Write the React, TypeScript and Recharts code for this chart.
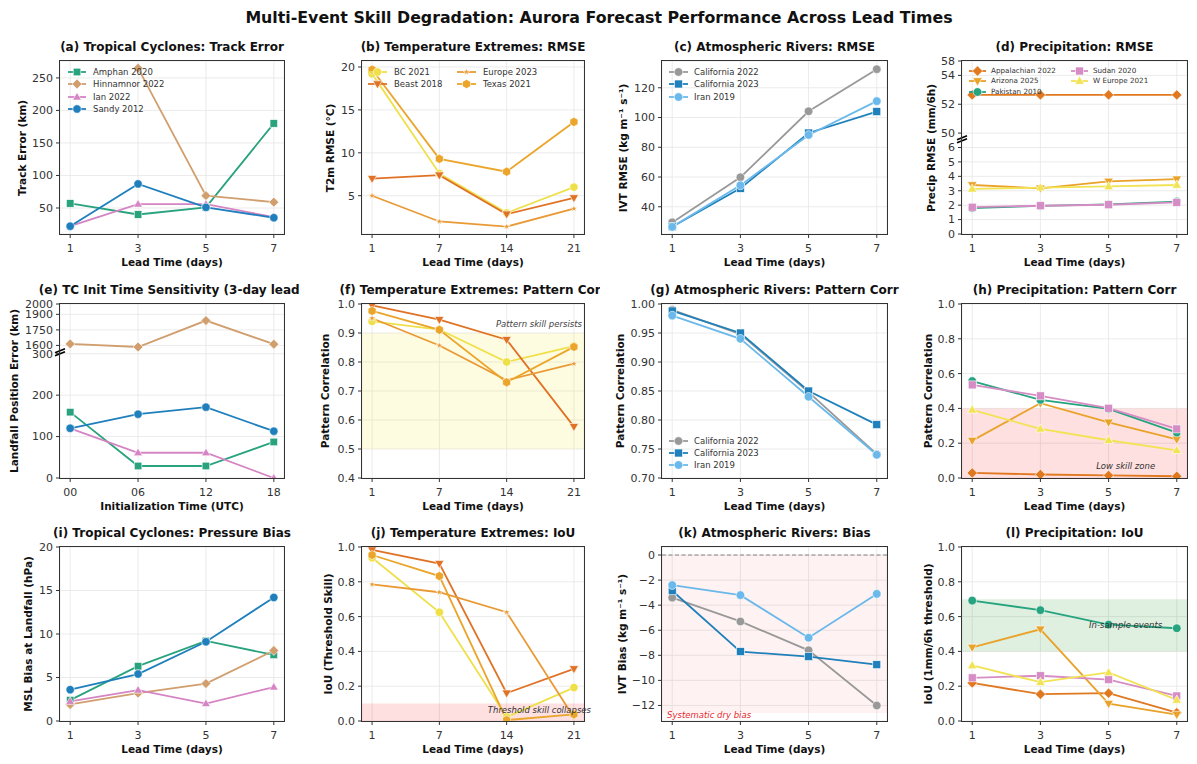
import React from "react";
import {
  LineChart,
  Line,
  XAxis,
  YAxis,
  CartesianGrid,
  ReferenceArea,
  ReferenceLine,
  ReferenceDot,
} from "recharts";

const FONT = '"DejaVu Sans", Verdana, sans-serif';

// x categories
const LEAD_DAYS = [1, 3, 5, 7];
const TEMP_LEAD_LABELS = ["1", "7", "14", "21"];
const INIT_TIME_LABELS = ["00", "06", "12", "18"];

// event names
const TC_EVENTS = ["Amphan 2020", "Hinnamnor 2022", "Ian 2022", "Sandy 2012"];
const TEMP_EVENTS = ["BC 2021", "Beast 2018", "Europe 2023", "Texas 2021"];
const AR_EVENTS = ["California 2022", "California 2023", "Iran 2019"];
const PRECIP_EVENTS = ["Appalachian 2022", "Arizona 2025", "Pakistan 2010", "Sudan 2020", "W Europe 2021"];

// (a) track error (km)
const trackAmphan = [57, 40, 51, 180];
const trackHinnamnor = [null, 265, 69, 59];
const trackIan = [22, 56, 56, 36];
const trackSandy = [22, 87, 51, 35];

// (b) T2m RMSE (°C)
const t2mBC = [19.2, 7.6, 3.0, 6.0];
const t2mBeast = [7.0, 7.4, 2.85, 4.75];
const t2mEurope = [5.0, 2.0, 1.4, 3.5];
const t2mTexas = [19.7, 9.3, 7.8, 13.6];

// (c) IVT RMSE
const ivtCal22 = [29.5, 59.8, 104.2, 132.5];
const ivtCal23 = [26.6, 52.4, 89.6, 104];
const ivtIran = [26.5, 54.4, 88.3, 111];

// (d) precip RMSE (mm/6h)
const prAppalachian = [52.65, 52.65, 52.65, 52.65];
const prArizona = [3.4, 3.17, 3.65, 3.8];
const prPakistan = [1.8, 1.95, 2.05, 2.25];
const prSudan = [1.86, 1.96, 2.03, 2.19];
const prWEurope = [3.13, 3.22, 3.3, 3.4];
const PRECIP_TICKS = [0, 1, 2, 3, 4, 5, 6, 50, 52, 54, 58];

// (e) landfall position error by init time (km)
const initAmphan = [159, 29, 29, 87];
const initHinnamnor = [1615, 1585, 1840, 1612];
const initIan = [120, 61, 61, 0];
const initSandy = [120, 154, 171, 113];
const LANDFALL_TICKS = [0, 100, 200, 300, 1600, 1750, 1900, 2000];

// (f) temperature pattern correlation
const pcBC = [0.94, 0.912, 0.8, 0.855];
const pcBeast = [0.995, 0.946, 0.877, 0.577];
const pcEurope = [0.951, 0.857, 0.737, 0.794];
const pcTexas = [0.976, 0.911, 0.73, 0.852];

// (g) AR pattern correlation
const arPcCal22 = [0.99, 0.948, 0.848, 0.741];
const arPcCal23 = [0.988, 0.95, 0.85, 0.792];
const arPcIran = [0.98, 0.94, 0.84, 0.74];

// (h) precip pattern correlation
const ppcAppalachian = [0.029, 0.02, 0.015, 0.01];
const ppcArizona = [0.215, 0.43, 0.32, 0.222];
const ppcPakistan = [0.557, 0.449, 0.397, 0.261];
const ppcSudan = [0.535, 0.472, 0.401, 0.282];
const ppcWEurope = [0.392, 0.282, 0.217, 0.159];

// (i) MSL bias at landfall (hPa)
const mslAmphan = [2.4, 6.3, 9.2, 7.6];
const mslHinnamnor = [1.9, 3.2, 4.3, 8.1];
const mslIan = [2.25, 3.55, 2.0, 3.9];
const mslSandy = [3.6, 5.4, 9.1, 14.2];

// (j) temperature IoU
const iouBC = [0.938, 0.625, 0.023, 0.192];
const iouBeast = [0.983, 0.905, 0.16, 0.3];
const iouEurope = [0.785, 0.74, 0.625, 0.02];
const iouTexas = [0.954, 0.833, 0.005, 0.038];

// (k) IVT bias
const biasCal22 = [-3.4, -5.3, -7.6, -12.0];
const biasCal23 = [-2.85, -7.7, -8.1, -8.75];
const biasIran = [-2.4, -3.2, -6.6, -3.1];

// (l) precip IoU
const piouAppalachian = [0.219, 0.154, 0.16, 0.048];
const piouArizona = [0.423, 0.527, 0.1, 0.037];
const piouPakistan = [0.692, 0.637, 0.554, 0.533];
const piouSudan = [0.248, 0.26, 0.238, 0.144];
const piouWEurope = [0.319, 0.223, 0.279, 0.121];

type MarkerKind = "circle" | "square" | "diamond" | "triUp" | "triDown" | "star" | "hexagon";
interface Style { color: string; marker: MarkerKind; size: number }
interface Series extends Style { name: string; values: (number | null)[] }

const TC_STYLE: Style[] = [
  { color: "#29a37e", marker: "square", size: 4 },
  { color: "#d19e6e", marker: "diamond", size: 4.3 },
  { color: "#d584c4", marker: "triUp", size: 4 },
  { color: "#1f7fbd", marker: "circle", size: 4.2 },
];
const TEMP_STYLE: Style[] = [
  { color: "#efe04a", marker: "circle", size: 4.2 },
  { color: "#e07226", marker: "triDown", size: 4.2 },
  { color: "#e99a35", marker: "star", size: 3.2 },
  { color: "#eaa52a", marker: "hexagon", size: 4.4 },
];
const AR_STYLE: Style[] = [
  { color: "#999999", marker: "circle", size: 4.3 },
  { color: "#1f80bb", marker: "square", size: 4.2 },
  { color: "#6ab9ea", marker: "circle", size: 4.3 },
];
const PRECIP_STYLE: Style[] = [
  { color: "#e0781f", marker: "diamond", size: 4.5 },
  { color: "#e9a22a", marker: "triDown", size: 4.3 },
  { color: "#26a37f", marker: "circle", size: 4.3 },
  { color: "#d68cc4", marker: "square", size: 4.2 },
  { color: "#f1e354", marker: "triUp", size: 4.3 },
];

const build = (names: string[], styles: Style[], values: (number | null)[][]): Series[] =>
  names.map((name, i) => ({ name, ...styles[i], values: values[i] }));

const precipScale = (v: number) => (v <= 6 ? v : v <= 54 ? 7 + (v - 50) : 11 + (v - 54) / 4);
const landfallScale = (v: number) => (v <= 300 ? v : 320 + (v - 1600) / 4);

const COL_X = [0, 300, 600, 900];
const COL_W = [300, 300, 300, 297];
const ROW_Y = [28, 276, 518];
const ROW_H = [248, 242, 246];
const PLOT_X = [[60, 284], [362, 584], [662, 887], [962, 1187]];
const PLOT_Y = [[61, 234], [304, 478], [547, 721]];

interface LegendCfg { x: number[]; y0: number; rowH: number; ncol: number; font: number; handle: number; gap: number }
interface Note { x: number; y: number; text: string; anchor: "start" | "middle" | "end"; color: string }
interface Band { y1: number; y2: number; fill: string; opacity: number }
interface PanelCfg {
  col: number;
  row: number;
  title: string;
  ylabel: string;
  xlabel: string;
  ylabelX: number;
  xs: number[];
  xDomain: [number, number];
  xFmt: (v: number) => string;
  series: Series[];
  yDomain: [number, number];
  yTicks: number[];
  yFmt: (v: number, i: number) => string;
  transform?: (v: number) => number;
  legend?: LegendCfg;
  bands?: Band[];
  notes?: Note[];
  zeroLine?: boolean;
  breakAt?: number;
}

const leadAxis = { xs: LEAD_DAYS, xDomain: [0.7, 7.3] as [number, number], xFmt: (v: number) => String(v) };
const tempAxis = {
  xs: TEMP_LEAD_LABELS.map((_, i) => i),
  xDomain: [-0.15, 3.15] as [number, number],
  xFmt: (v: number) => TEMP_LEAD_LABELS[v] ?? "",
};
const initAxis = {
  xs: INIT_TIME_LABELS.map((_, i) => i),
  xDomain: [-0.15, 3.15] as [number, number],
  xFmt: (v: number) => INIT_TIME_LABELS[v] ?? "",
};
const fix1 = (v: number) => v.toFixed(1);
const fix2 = (v: number) => v.toFixed(2);
const int = (v: number) => (v < 0 ? "\u2212" + Math.abs(v) : String(v));
const LEAD = "Lead Time (days)";

const PANELS: PanelCfg[] = [
  {
    col: 0, row: 0, title: "(a) Tropical Cyclones: Track Error", ylabel: "Track Error (km)", xlabel: LEAD, ylabelX: 22,
    ...leadAxis,
    series: build(TC_EVENTS, TC_STYLE, [trackAmphan, trackHinnamnor, trackIan, trackSandy]),
    yDomain: [10, 276], yTicks: [50, 100, 150, 200, 250], yFmt: int,
    legend: { x: [68], y0: 72, rowH: 12.4, ncol: 1, font: 8.5, handle: 18, gap: 7 },
  },
  {
    col: 1, row: 0, title: "(b) Temperature Extremes: RMSE", ylabel: "T2m RMSE (°C)", xlabel: LEAD, ylabelX: 330,
    ...tempAxis,
    series: build(TEMP_EVENTS, TEMP_STYLE, [t2mBC, t2mBeast, t2mEurope, t2mTexas]),
    yDomain: [0.54, 20.7], yTicks: [5, 10, 15, 20], yFmt: int,
    legend: { x: [368, 457], y0: 72, rowH: 12, ncol: 2, font: 8.5, handle: 19, gap: 7 },
  },
  {
    col: 2, row: 0, title: "(c) Atmospheric Rivers: RMSE", ylabel: "IVT RMSE (kg m\u207B\u00B9 s\u207B\u00B9)", xlabel: LEAD, ylabelX: 623,
    ...leadAxis,
    series: build(AR_EVENTS, AR_STYLE, [ivtCal22, ivtCal23, ivtIran]),
    yDomain: [21.7, 138], yTicks: [40, 60, 80, 100, 120], yFmt: int,
    legend: { x: [669], y0: 72, rowH: 12.3, ncol: 1, font: 8.5, handle: 19, gap: 6 },
  },
  {
    col: 3, row: 0, title: "(d) Precipitation: RMSE", ylabel: "Precip RMSE (mm/6h)", xlabel: LEAD, ylabelX: 931,
    ...leadAxis,
    series: build(PRECIP_EVENTS, PRECIP_STYLE, [prAppalachian, prArizona, prPakistan, prSudan, prWEurope]),
    transform: precipScale,
    yDomain: [0, 12], yTicks: PRECIP_TICKS.map(precipScale), yFmt: (_v, i) => String(PRECIP_TICKS[i]),
    breakAt: 6.6,
    legend: { x: [969, 1071], y0: 71, rowH: 10.3, ncol: 2, font: 7.2, handle: 17, gap: 5 },
  },
  {
    col: 0, row: 1, title: "(e) TC Init Time Sensitivity (3-day lead)", ylabel: "Landfall Position Error (km)",
    xlabel: "Initialization Time (UTC)", ylabelX: 14,
    ...initAxis,
    series: build(TC_EVENTS, TC_STYLE, [initAmphan, initHinnamnor, initIan, initSandy]),
    transform: landfallScale,
    yDomain: [0, 420], yTicks: LANDFALL_TICKS.map(landfallScale), yFmt: (_v, i) => String(LANDFALL_TICKS[i]),
    breakAt: 305,
  },
  {
    col: 1, row: 1, title: "(f) Temperature Extremes: Pattern Corr", ylabel: "Pattern Correlation", xlabel: LEAD, ylabelX: 325,
    ...tempAxis,
    series: build(TEMP_EVENTS, TEMP_STYLE, [pcBC, pcBeast, pcEurope, pcTexas]),
    yDomain: [0.4, 1.0], yTicks: [0.4, 0.5, 0.6, 0.7, 0.8, 0.9, 1.0], yFmt: fix1,
    bands: [{ y1: 0.5, y2: 0.9, fill: "#f5ec30", opacity: 0.15 }],
    notes: [{ x: 3.12, y: 0.93, text: "Pattern skill persists", anchor: "end", color: "#444" }],
  },
  {
    col: 2, row: 1, title: "(g) Atmospheric Rivers: Pattern Corr", ylabel: "Pattern Correlation", xlabel: LEAD, ylabelX: 620,
    ...leadAxis,
    series: build(AR_EVENTS, AR_STYLE, [arPcCal22, arPcCal23, arPcIran]),
    yDomain: [0.7, 1.0], yTicks: [0.7, 0.75, 0.8, 0.85, 0.9, 0.95, 1.0], yFmt: fix2,
    legend: { x: [669], y0: 441, rowH: 12, ncol: 1, font: 8.5, handle: 19, gap: 6 },
  },
  {
    col: 3, row: 1, title: "(h) Precipitation: Pattern Corr", ylabel: "Pattern Correlation", xlabel: LEAD, ylabelX: 928,
    ...leadAxis,
    series: build(PRECIP_EVENTS, PRECIP_STYLE, [ppcAppalachian, ppcArizona, ppcPakistan, ppcSudan, ppcWEurope]),
    yDomain: [0, 1.0], yTicks: [0, 0.2, 0.4, 0.6, 0.8, 1.0], yFmt: fix1,
    bands: [{ y1: 0, y2: 0.4, fill: "#ff0000", opacity: 0.12 }],
    notes: [{ x: 5.5, y: 0.07, text: "Low skill zone", anchor: "middle", color: "#333" }],
  },
  {
    col: 0, row: 2, title: "(i) Tropical Cyclones: Pressure Bias", ylabel: "MSL Bias at Landfall (hPa)", xlabel: LEAD, ylabelX: 28,
    ...leadAxis,
    series: build(TC_EVENTS, TC_STYLE, [mslAmphan, mslHinnamnor, mslIan, mslSandy]),
    yDomain: [0, 20], yTicks: [0, 5, 10, 15, 20], yFmt: int,
  },
  {
    col: 1, row: 2, title: "(j) Temperature Extremes: IoU", ylabel: "IoU (Threshold Skill)", xlabel: LEAD, ylabelX: 328,
    ...tempAxis,
    series: build(TEMP_EVENTS, TEMP_STYLE, [iouBC, iouBeast, iouEurope, iouTexas]),
    yDomain: [0, 1.0], yTicks: [0, 0.2, 0.4, 0.6, 0.8, 1.0], yFmt: fix1,
    bands: [{ y1: 0, y2: 0.1, fill: "#ff0000", opacity: 0.12 }],
    notes: [{ x: 1.72, y: 0.063, text: "Threshold skill collapses", anchor: "start", color: "#333" }],
  },
  {
    col: 2, row: 2, title: "(k) Atmospheric Rivers: Bias", ylabel: "IVT Bias (kg m\u207B\u00B9 s\u207B\u00B9)", xlabel: LEAD, ylabelX: 622,
    ...leadAxis,
    series: build(AR_EVENTS, AR_STYLE, [biasCal22, biasCal23, biasIran]),
    yDomain: [-13.24, 0.64], yTicks: [-12, -10, -8, -6, -4, -2, 0], yFmt: int,
    bands: [{ y1: -12.6, y2: 0, fill: "#ff0000", opacity: 0.05 }],
    zeroLine: true,
    notes: [{ x: 0.85, y: -12.75, text: "Systematic dry bias", anchor: "start", color: "#e8242c" }],
  },
  {
    col: 3, row: 2, title: "(l) Precipitation: IoU", ylabel: "IoU (1mm/6h threshold)", xlabel: LEAD, ylabelX: 928,
    ...leadAxis,
    series: build(PRECIP_EVENTS, PRECIP_STYLE, [piouAppalachian, piouArizona, piouPakistan, piouSudan, piouWEurope]),
    yDomain: [0, 1.0], yTicks: [0, 0.2, 0.4, 0.6, 0.8, 1.0], yFmt: fix1,
    bands: [{ y1: 0.4, y2: 0.7, fill: "#008000", opacity: 0.12 }],
    notes: [{ x: 5.5, y: 0.55, text: "In-sample events", anchor: "middle", color: "#333" }],
  },
];

function Marker({ kind, cx, cy, color, s }: { kind: MarkerKind; cx: number; cy: number; color: string; s: number }) {
  const st = { fill: color, stroke: "#ffffff", strokeWidth: 0.6 };
  if (kind === "circle") return <circle cx={cx} cy={cy} r={s} {...st} />;
  if (kind === "square") return <rect x={cx - s * 0.95} y={cy - s * 0.95} width={s * 1.9} height={s * 1.9} {...st} />;
  let pts: number[][] = [];
  if (kind === "diamond") pts = [[0, -1.15], [1.15, 0], [0, 1.15], [-1.15, 0]];
  if (kind === "triUp") pts = [[0, -1.15], [1.1, 0.75], [-1.1, 0.75]];
  if (kind === "triDown") pts = [[0, 1.15], [1.1, -0.75], [-1.1, -0.75]];
  if (kind === "hexagon")
    pts = [0, 1, 2, 3, 4, 5].map((k) => [Math.sin((k * Math.PI) / 3) * 1.05, -Math.cos((k * Math.PI) / 3) * 1.05]);
  if (kind === "star")
    pts = Array.from({ length: 10 }, (_, k) => {
      const r = k % 2 ? 0.45 : 1.15;
      const a = (k * Math.PI) / 5;
      return [Math.sin(a) * r, -Math.cos(a) * r];
    });
  return <polygon points={pts.map(([x, y]) => `${cx + x * s},${cy + y * s}`).join(" ")} {...st} />;
}

function Legend({ cfg, series, cellX, cellY }: { cfg: LegendCfg; series: Series[]; cellX: number; cellY: number }) {
  const rows = Math.ceil(series.length / cfg.ncol);
  return (
    <>
      {series.map((s, i) => {
        const c = Math.floor(i / rows);
        const r = i % rows;
        return (
          <div
            key={s.name}
            style={{
              position: "absolute",
              left: cfg.x[c] - cellX,
              top: cfg.y0 + r * cfg.rowH - cellY - 6,
              height: 12,
              display: "flex",
              alignItems: "center",
              whiteSpace: "nowrap",
            }}
          >
            <svg width={cfg.handle} height={12} style={{ overflow: "visible" }}>
              <line x1={0} y1={6} x2={cfg.handle} y2={6} stroke={s.color} strokeWidth={1.8} />
              <Marker kind={s.marker} cx={cfg.handle / 2} cy={6} color={s.color} s={s.size} />
            </svg>
            <span style={{ marginLeft: cfg.gap, fontSize: cfg.font, color: "#333", lineHeight: "12px" }}>{s.name}</span>
          </div>
        );
      })}
    </>
  );
}

function Panel({ cfg }: { cfg: PanelCfg }) {
  const cellX = COL_X[cfg.col];
  const cellW = COL_W[cfg.col];
  const cellY = ROW_Y[cfg.row];
  const cellH = ROW_H[cfg.row];
  const [pl, pr] = PLOT_X[cfg.col];
  const [pt, pb] = PLOT_Y[cfg.row];
  const xAxisH = 24;
  const tf = cfg.transform ?? ((v: number) => v);
  const data = cfg.xs.map((x, i) => {
    const row: Record<string, number | null> = { x };
    cfg.series.forEach((s, k) => {
      const v = s.values[i];
      row["s" + k] = v == null ? null : tf(v);
    });
    return row;
  });
  const cx = (pl + pr) / 2 - cellX;
  const cy = (pt + pb) / 2 - cellY;
  const tickStyle = { fontSize: 11, fill: "#333", fontFamily: FONT };

  return (
    <div style={{ position: "absolute", left: cellX, top: cellY, width: cellW, height: cellH, overflow: "hidden" }}>
      <div style={{ position: "absolute", left: 0, top: 0 }}>
        <LineChart
          width={cellW}
          height={cellH}
          data={data}
          margin={{ top: pt - cellY, right: cellX + cellW - pr, bottom: cellY + cellH - pb - xAxisH, left: 0 }}
        >
          <CartesianGrid stroke="#e6e6e6" strokeWidth={0.8} />
          {(cfg.bands ?? []).map((b, i) => (
            <ReferenceArea key={"b" + i} y1={b.y1} y2={b.y2} fill={b.fill} fillOpacity={b.opacity} stroke="none" ifOverflow="hidden" />
          ))}
          {cfg.zeroLine && <ReferenceLine y={0} stroke="#777" strokeDasharray="4 2.5" strokeWidth={0.9} />}
          <XAxis
            type="number"
            dataKey="x"
            domain={cfg.xDomain}
            ticks={cfg.xs}
            tickFormatter={cfg.xFmt}
            interval={0}
            allowDataOverflow
            height={xAxisH}
            axisLine={false}
            tickLine={{ stroke: "#333" }}
            tickSize={4}
            tickMargin={6}
            tick={tickStyle}
          />
          <YAxis
            type="number"
            domain={cfg.yDomain}
            ticks={cfg.yTicks}
            tickFormatter={cfg.yFmt}
            interval={0}
            allowDataOverflow
            width={pl - cellX}
            axisLine={false}
            tickLine={{ stroke: "#333" }}
            tickSize={4}
            tickMargin={3}
            tick={tickStyle}
          />
          {cfg.series.map((s, k) => (
            <Line
              key={s.name}
              type="linear"
              dataKey={"s" + k}
              stroke={s.color}
              strokeWidth={1.8}
              isAnimationActive={false}
              connectNulls={false}
              activeDot={false}
              dot={(p: any) => {
                const key = `d-${k}-${p.index}`;
                if (p.cx == null || p.cy == null || p.value == null) return <g key={key} />;
                return <Marker key={key} kind={s.marker} cx={p.cx} cy={p.cy} color={s.color} s={s.size} />;
              }}
            />
          ))}
          {(cfg.notes ?? []).map((n, i) => (
            <ReferenceDot
              key={"n" + i}
              x={n.x}
              y={n.y}
              r={0}
              ifOverflow="visible"
              shape={(p: any) => (
                <text
                  x={p.cx}
                  y={p.cy}
                  textAnchor={n.anchor}
                  dominantBaseline="central"
                  fontSize={8.5}
                  fontStyle="italic"
                  fill={n.color}
                  fontFamily={FONT}
                >
                  {n.text}
                </text>
              )}
            />
          ))}
          {cfg.breakAt != null && (
            <ReferenceDot
              x={cfg.xDomain[0]}
              y={cfg.breakAt}
              r={0}
              ifOverflow="visible"
              shape={(p: any) => (
                <g>
                  <line x1={p.cx - 5} y1={p.cy + 1} x2={p.cx + 5} y2={p.cy - 3} stroke="#000" strokeWidth={1.6} />
                  <line x1={p.cx - 5} y1={p.cy + 4} x2={p.cx + 5} y2={p.cy} stroke="#000" strokeWidth={1.6} />
                </g>
              )}
            />
          )}
        </LineChart>
      </div>
      <div
        style={{
          position: "absolute",
          left: pl - cellX - 0.6,
          top: pt - cellY - 0.6,
          width: pr - pl + 1.2,
          height: pb - pt + 1.2,
          border: "1.3px solid #333",
          boxSizing: "border-box",
          pointerEvents: "none",
        }}
      />
      <div
        style={{
          position: "absolute",
          left: cx,
          top: pt - cellY - 14,
          transform: "translate(-50%, -50%)",
          whiteSpace: "nowrap",
          fontSize: 12,
          fontWeight: "bold",
          color: "#111",
        }}
      >
        {cfg.title}
      </div>
      <div
        style={{
          position: "absolute",
          left: cx,
          top: pb - cellY + 28,
          transform: "translate(-50%, -50%)",
          whiteSpace: "nowrap",
          fontSize: 10.5,
          fontWeight: "bold",
          color: "#111",
        }}
      >
        {cfg.xlabel}
      </div>
      <div
        style={{
          position: "absolute",
          left: cfg.ylabelX - cellX,
          top: cy,
          transform: "translate(-50%, -50%) rotate(-90deg)",
          whiteSpace: "nowrap",
          fontSize: 10.5,
          fontWeight: "bold",
          color: "#111",
        }}
      >
        {cfg.ylabel}
      </div>
      {cfg.legend && <Legend cfg={cfg.legend} series={cfg.series} cellX={cellX} cellY={cellY} />}
    </div>
  );
}

export default function App() {
  return (
    <div
      style={{
        position: "absolute",
        left: 0,
        top: 0,
        width: 1197,
        height: 764,
        background: "#fff",
        fontFamily: FONT,
        overflow: "hidden",
      }}
    >
      <div
        style={{
          position: "absolute",
          left: 599,
          top: 17,
          transform: "translate(-50%, -50%)",
          whiteSpace: "nowrap",
          fontSize: 15.8,
          fontWeight: "bold",
          color: "#111",
        }}
      >
        Multi-Event Skill Degradation: Aurora Forecast Performance Across Lead Times
      </div>
      {PANELS.map((p) => (
        <Panel key={p.title} cfg={p} />
      ))}
    </div>
  );
}
